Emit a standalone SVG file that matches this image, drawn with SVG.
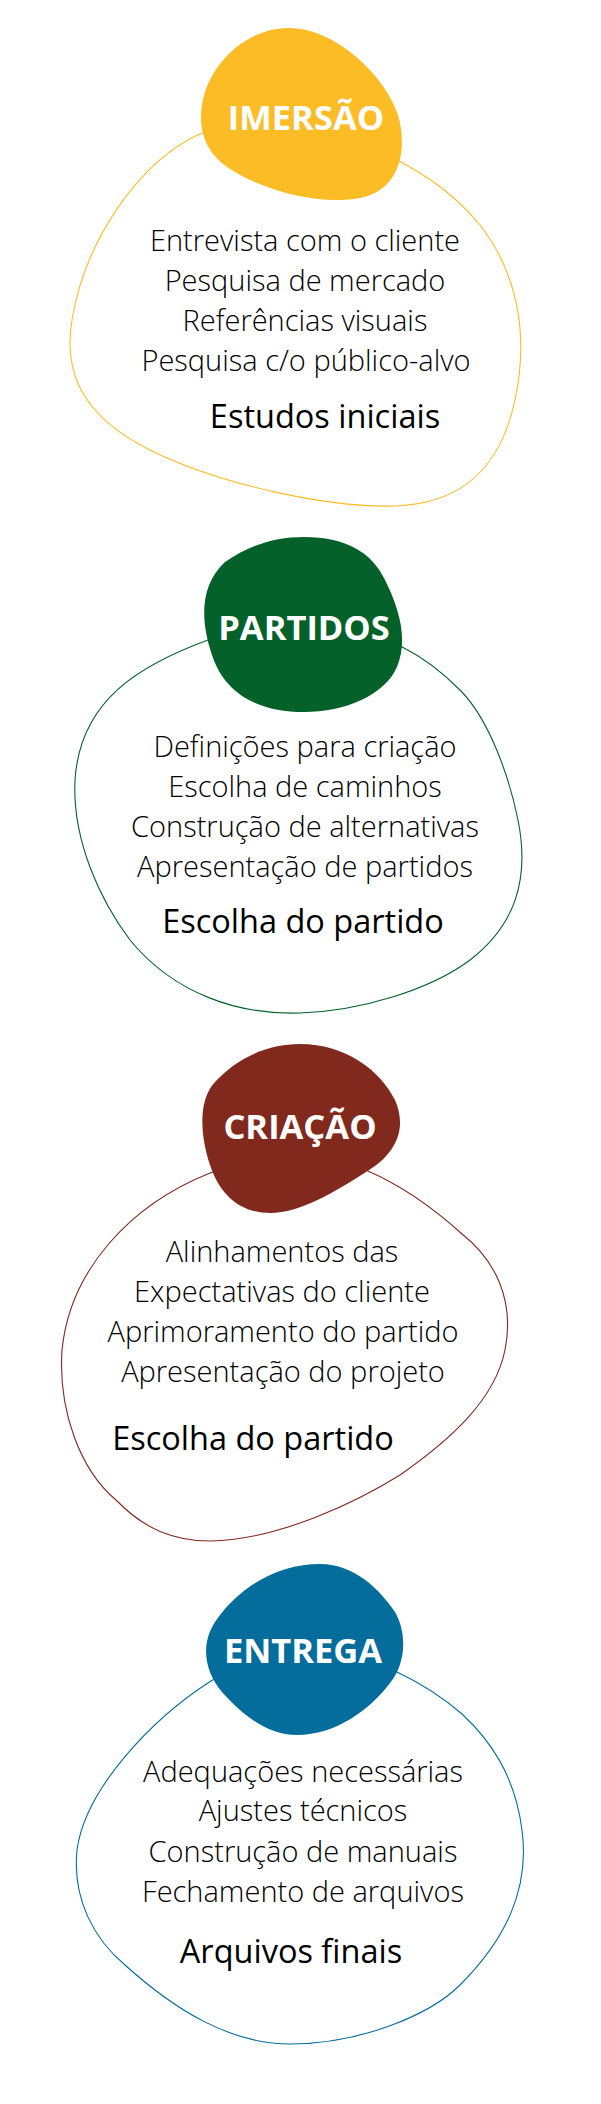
<svg xmlns="http://www.w3.org/2000/svg" width="601" height="2104" viewBox="0 0 601 2104">
<style>
.outline{fill:none;stroke-width:1.1}
.title{font-family:"Open Sans","Noto Sans",sans-serif;font-weight:700;font-size:34.5px;fill:#ffffff;text-anchor:middle}
.item{font-family:"Open Sans","Noto Sans",sans-serif;font-weight:300;font-size:29px;fill:#000000;text-anchor:middle}
.sub{font-family:"Open Sans","Noto Sans",sans-serif;font-weight:400;font-size:32.5px;fill:#000000;text-anchor:middle}
.y{stroke:#FBBC25}.yf{fill:#FBBC25}
.g{stroke:#05612A}.gf{fill:#05612A}
.r{stroke:#82291E}.rf{fill:#82291E}
.b{stroke:#046D9C}.bf{fill:#046D9C}
</style>
<rect width="601" height="2104" fill="#ffffff"/>
<g id="imersao">
<path class="outline y" d="M 202,133 C 140,160 85,240 72,320 C 62,380 90,420 150,450 C 220,485 330,508 395,506 C 460,504 500,470 515,400 C 530,330 515,270 480,225 C 455,195 430,178 401,162 C 350,130 250,110 202,133 Z"/>
<path class="yf" d="M 289,28 C 335,28 385,75 398,115 C 408,150 400,190 360,198 C 320,206 265,190 235,172 C 205,155 198,130 202,105 C 208,65 245,28 289,28 Z"/>
<text class="title" x="306" y="130">IMERSÃO</text>
<text class="item" x="305" y="251">Entrevista com o cliente</text>
<text class="item" x="305" y="291">Pesquisa de mercado</text>
<text class="item" x="305" y="331">Referências visuais</text>
<text class="item" x="306" y="371">Pesquisa c/o público-alvo</text>
<text class="sub" x="325" y="428">Estudos iniciais</text>
</g>
<g id="partidos">
<path class="outline g" d="M 208,640 C 140,665 80,700 75,780 C 72,840 100,900 130,940 C 175,995 240,1015 300,1013 C 360,1011 430,990 470,960 C 515,925 530,880 518,820 C 510,780 490,720 460,690 C 440,670 420,656 404,648 C 350,620 260,620 208,640 Z"/>
<path class="gf" d="M 304,537 C 345,537 372,552 385,580 C 400,610 408,640 397,667 C 385,695 345,712 304,712 C 260,712 225,695 212,655 C 200,620 200,585 225,562 C 250,545 275,537 304,537 Z"/>
<text class="title" x="304" y="640">PARTIDOS</text>
<text class="item" x="305" y="757">Definições para criação</text>
<text class="item" x="305" y="797">Escolha de caminhos</text>
<text class="item" x="305" y="837">Construção de alternativas</text>
<text class="item" x="305" y="877">Apresentação de partidos</text>
<text class="sub" x="303" y="933">Escolha do partido</text>
</g>
<g id="criacao">
<path class="outline r" d="M 210,1173 C 130,1205 70,1270 62,1350 C 58,1410 80,1470 116,1500 C 145,1530 175,1541 210,1541 C 280,1540 360,1500 400,1475 C 450,1440 495,1400 505,1350 C 515,1300 495,1260 462,1234 C 430,1205 400,1185 368,1171 C 320,1150 250,1155 210,1173 Z"/>
<path class="rf" d="M 300,1044 C 345,1044 380,1070 395,1100 C 408,1130 395,1155 366,1172 C 335,1192 300,1213 270,1213 C 240,1213 220,1195 210,1165 C 200,1135 198,1100 215,1082 C 235,1060 265,1044 300,1044 Z"/>
<text class="title" x="300" y="1139">CRIAÇÃO</text>
<text class="item" x="282" y="1262">Alinhamentos das</text>
<text class="item" x="282" y="1302">Expectativas do cliente</text>
<text class="item" x="283" y="1342">Aprimoramento do partido</text>
<text class="item" x="283" y="1382">Apresentação do projeto</text>
<text class="sub" x="253" y="1450">Escolha do partido</text>
</g>
<g id="entrega">
<path class="outline b" d="M 211,1681 C 150,1720 85,1790 77,1850 C 72,1900 95,1940 125,1965 C 175,2010 230,2044 290,2044 C 360,2044 430,2015 460,1985 C 505,1940 530,1890 522,1830 C 515,1775 490,1740 462,1714 C 440,1695 420,1683 397,1672 C 340,1645 260,1650 211,1681 Z"/>
<path class="bf" d="M 320,1564 C 355,1564 380,1590 395,1612 C 408,1635 405,1665 390,1683 C 370,1710 335,1735 297,1735 C 265,1735 240,1712 222,1692 C 205,1672 200,1645 215,1622 C 240,1585 280,1564 320,1564 Z"/>
<text class="title" x="303" y="1663">ENTREGA</text>
<text class="item" x="303" y="1782">Adequações necessárias</text>
<text class="item" x="303" y="1821">Ajustes técnicos</text>
<text class="item" x="303" y="1862">Construção de manuais</text>
<text class="item" x="303" y="1902">Fechamento de arquivos</text>
<text class="sub" x="291" y="1963">Arquivos finais</text>
</g>
</svg>
